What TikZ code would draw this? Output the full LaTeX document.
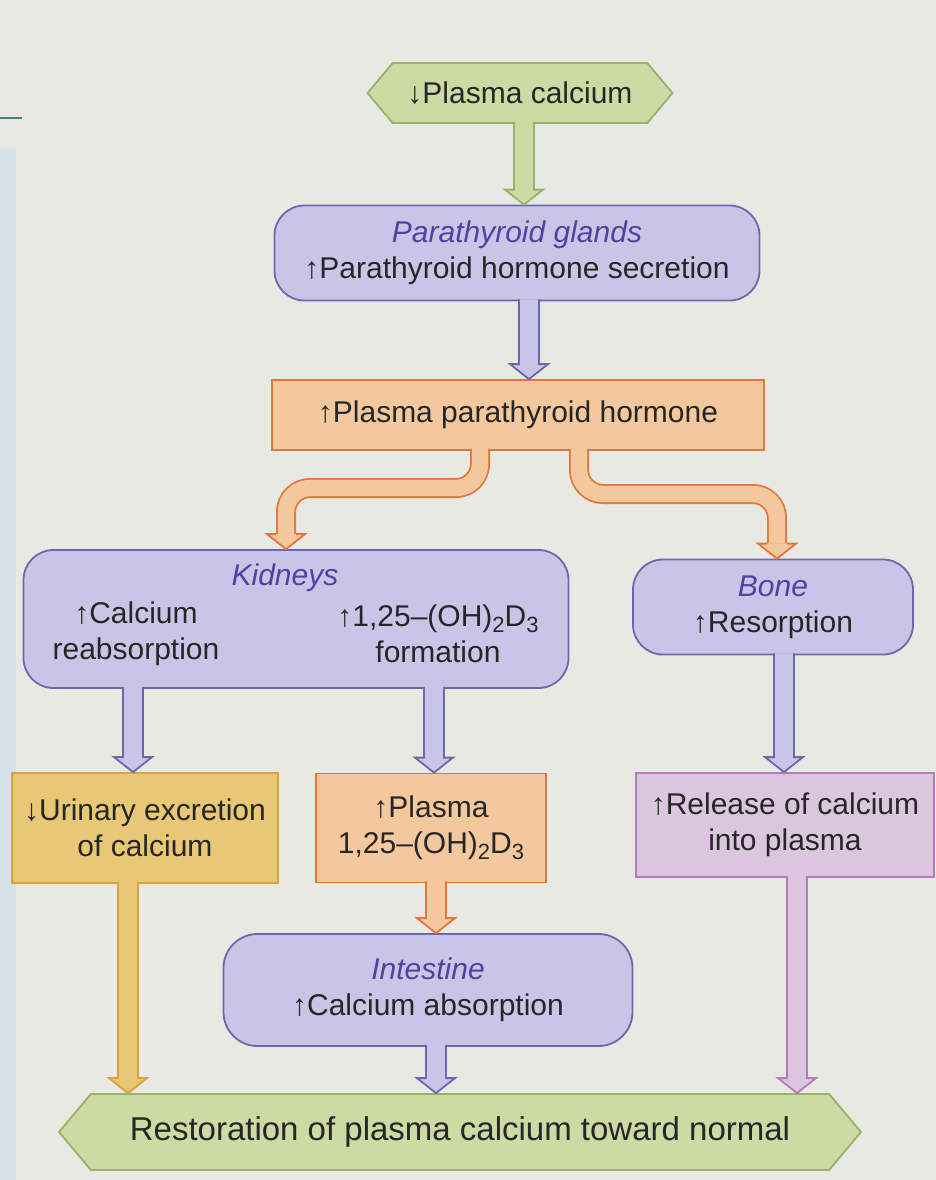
\documentclass[tikz,border=0pt]{standalone}
\usepackage{fontspec}
\setmainfont{Liberation Sans}
\usetikzlibrary{shapes.symbols,calc}
\definecolor{pagebg}{HTML}{E7E9E2}
\definecolor{stripbg}{HTML}{D6E2E7}
\definecolor{txt}{HTML}{262626}
\definecolor{labc}{HTML}{4E43A3}
\definecolor{grnF}{HTML}{CCDAA4}
\definecolor{grnD}{HTML}{9DB06A}
\definecolor{lavF}{HTML}{C8C6E7}
\definecolor{lavD}{HTML}{6F67AE}
\definecolor{oraF}{HTML}{F4C89D}
\definecolor{oraD}{HTML}{E4753C}
\definecolor{yelF}{HTML}{E8C775}
\definecolor{yelD}{HTML}{D6A33C}
\definecolor{pnkF}{HTML}{DCC6DF}
\definecolor{pnkD}{HTML}{B57BBC}
\newdimen\px \px=0.5pt
\newcommand{\lab}[1]{{\itshape\color{labc}#1}}
\newcommand{\lowidx}[1]{\raisebox{-0.35ex}{\fontsize{11}{11}\selectfont #1}}
% straight block arrow: #1 x (px), #2 source anchor, #3 target anchor, #4 fill, #5 border
\newcommand{\varrow}[5]{%
  \filldraw[fill=#4,draw=#5,line width=0.9pt,line join=miter]
    let \p1=(#2), \p2=(#3), \p3=(#1,0) in
    (\x3-5pt,\y1+1pt) -- (\x3-5pt,\y2+7.5pt) -- (\x3-9.5pt,\y2+7.5pt) -- (\x3,\y2)
    -- (\x3+9.5pt,\y2+7.5pt) -- (\x3+5pt,\y2+7.5pt) -- (\x3+5pt,\y1+1pt);}
% bent block arrow: #1 start x, #2 mid y, #3 end x, #4 source, #5 target, #6 fill, #7 border
\newcommand{\barrow}[7]{%
  \draw[line width=10pt,draw=#7,rounded corners=12pt]
    let \p1=(#4), \p2=(#5), \p3=(#1,#2), \p4=(#3,0) in
    (\x3,\y1+1pt) -- (\x3,\y3) -- (\x4,\y3) -- (\x4,\y2+7.5pt);
  \draw[line width=8.2pt,draw=#6,rounded corners=12pt]
    let \p1=(#4), \p2=(#5), \p3=(#1,#2), \p4=(#3,0) in
    (\x3,\y1+1.5pt) -- (\x3,\y3) -- (\x4,\y3) -- (\x4,\y2+7.5pt);
  \filldraw[fill=#6,draw=#7,line width=0.9pt,line join=miter]
    let \p2=(#5), \p4=(#3,0) in
    (\x4-5pt,\y2+7.5pt) -- (\x4-9.5pt,\y2+7.5pt) -- (\x4,\y2) -- (\x4+9.5pt,\y2+7.5pt) -- (\x4+5pt,\y2+7.5pt);}
\begin{document}
\begin{tikzpicture}[x=0.5pt,y=-0.5pt,
  every node/.style={font=\fontsize{15}{18}\selectfont,text=txt,inner sep=0pt,align=center},
  hexbox/.style={shape=signal,signal to=west and east,signal pointer angle=100,
    fill=grnF,draw=grnD,line width=0.9pt},
  lavbox/.style={rectangle,rounded corners=15pt,fill=lavF,draw=lavD,line width=0.9pt},
  orabox/.style={rectangle,fill=oraF,draw=oraD,line width=0.9pt},
  yelbox/.style={rectangle,fill=yelF,draw=yelD,line width=0.9pt},
  pnkbox/.style={rectangle,fill=pnkF,draw=pnkD,line width=0.9pt}]
\useasboundingbox (0,0) rectangle (936,1180);
\fill[pagebg] (0,0) rectangle (936,1180);
\fill[stripbg] (0,148) rectangle (16,1180);
\draw[color=gray!60!teal,line width=0.8pt] (0,118) -- (22,118);

% nodes
\node[hexbox,minimum width=305\px,minimum height=60\px] (top) at (520,93) {↓Plasma calcium};
\node[lavbox,minimum width=485\px,minimum height=95\px] (para) at (517,253)
  {\lab{Parathyroid glands}\\↑Parathyroid hormone secretion};
\node[orabox,minimum width=492\px,minimum height=70\px] (ora) at (518,415)
  {↑Plasma parathyroid hormone};
\node[lavbox,minimum width=545\px,minimum height=138\px] (kid) at (296,619) {};
\node (kidT) at (285,578) {\lab{Kidneys}};
\node (kidA) at (136,634) {↑Calcium\\reabsorption};
\node (kidB) at (438,634) {↑1,25--(OH)\lowidx{2}D\lowidx{3}\\formation};
\node[lavbox,minimum width=280\px,minimum height=95\px] (bone) at (773,607)
  {\lab{Bone}\\↑Resorption};
\node[yelbox,minimum width=266\px,minimum height=110\px] (uri) at (145,828)
  {↓Urinary excretion\\of calcium};
\node[orabox,minimum width=230\px,minimum height=109\px] (pl2) at (431,828)
  {↑Plasma\\1,25--(OH)\lowidx{2}D\lowidx{3}};
\node[pnkbox,minimum width=298\px,minimum height=104\px] (rel) at (785,825)
  {↑Release of calcium\\into plasma};
\node[lavbox,minimum width=409\px,minimum height=112\px,rounded corners=17pt] (intes) at (428,990)
  {\lab{Intestine}\\↑Calcium absorption};
\node[hexbox,minimum width=802\px,minimum height=76\px,font=\fontsize{16.5}{19}\selectfont] (rest) at (460,1132)
  {Restoration of plasma calcium toward normal};

% connectors
\varrow{524}{top.south}{para.north}{grnF}{grnD}
\varrow{529}{para.south}{ora.north}{lavF}{lavD}
\barrow{480}{488}{286}{ora.south}{kid.north}{oraF}{oraD}
\barrow{579}{494}{777}{ora.south}{bone.north}{oraF}{oraD}
\varrow{133}{kid.south}{uri.north}{lavF}{lavD}
\varrow{434}{kid.south}{pl2.north}{lavF}{lavD}
\varrow{784}{bone.south}{rel.north}{lavF}{lavD}
\varrow{128}{uri.south}{rest.north}{yelF}{yelD}
\varrow{436}{pl2.south}{intes.north}{oraF}{oraD}
\varrow{436}{intes.south}{rest.north}{lavF}{lavD}
\varrow{797}{rel.south}{rest.north}{pnkF}{pnkD}
\end{tikzpicture}
\end{document}
